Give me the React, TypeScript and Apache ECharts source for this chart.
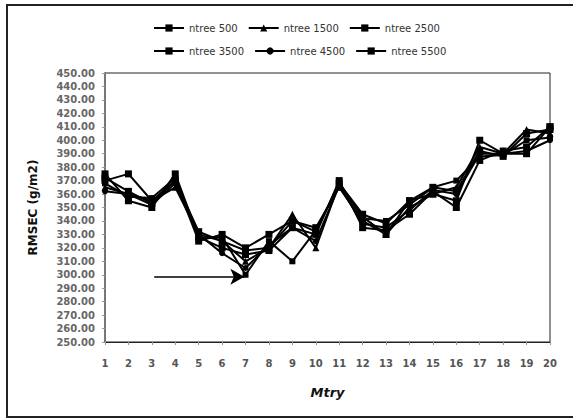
import React, { useEffect, useRef } from "react";
import * as echarts from "echarts";

const mtry = [1, 2, 3, 4, 5, 6, 7, 8, 9, 10, 11, 12, 13, 14, 15, 16, 17, 18, 19, 20];
const seriesNames = ["ntree 500", "ntree 1500", "ntree 2500", "ntree 3500", "ntree 4500", "ntree 5500"];
const ntree500 = [370, 375, 355, 370, 325, 330, 320, 330, 340, 335, 365, 340, 330, 355, 360, 355, 400, 390, 390, 410];
const ntree1500 = [365, 360, 355, 365, 330, 325, 310, 320, 345, 320, 368, 343, 330, 350, 360, 365, 395, 390, 408, 405];
const ntree2500 = [375, 355, 350, 375, 328, 320, 315, 318, 335, 330, 370, 335, 333, 345, 362, 350, 385, 392, 395, 410];
const ntree3500 = [368, 358, 357, 372, 327, 328, 300, 325, 310, 333, 367, 342, 340, 352, 365, 370, 388, 389, 400, 402];
const ntree4500 = [362, 360, 352, 368, 330, 316, 305, 322, 335, 325, 366, 338, 335, 348, 363, 360, 390, 390, 392, 400];
const ntree5500 = [372, 362, 353, 370, 332, 325, 318, 320, 340, 332, 368, 345, 338, 355, 365, 362, 392, 388, 405, 408];
const allValues = [ntree500, ntree1500, ntree2500, ntree3500, ntree4500, ntree5500];
const symbols = ["rect", "triangle", "rect", "rect", "circle", "rect"];
const symbolSizes = [7, 7, 7, 6, 6, 7];
const arrowStart = [3.1, 298.5];
const arrowEnd = [6.95, 298.5];

export default function App() {
  const ref = useRef<HTMLDivElement>(null);
  useEffect(() => {
    if (!ref.current) return;
    const chart = echarts.init(ref.current, null, { renderer: "svg" });
    const series: any[] = allValues.map((vals, i) => ({
      name: seriesNames[i],
      type: "line",
      data: vals.map((v, j) => [mtry[j], v]),
      symbol: symbols[i],
      symbolSize: symbolSizes[i],
      itemStyle: { color: "#000" },
      lineStyle: { color: "#000", width: 2 },
      z: 3,
    }));
    series[0].markLine = {
      silent: true,
      symbol: ["none", "arrow"],
      symbolSize: [12, 14],
      label: { show: false },
      lineStyle: { color: "#000", width: 1.5, type: "solid" },
      data: [[{ coord: arrowStart }, { coord: arrowEnd }]],
    };
    chart.setOption({
      animation: false,
      backgroundColor: "#fff",
      textStyle: { fontFamily: "DejaVu Sans" },
      graphic: [
        {
          type: "rect",
          shape: { x: 7, y: 5, width: 580, height: 412 },
          style: { fill: "none", stroke: "#222", lineWidth: 2 },
          silent: true,
        },
      ],
      legend: [
        {
          data: seriesNames.slice(0, 3),
          left: 148,
          top: 18,
          itemWidth: 30,
          itemHeight: 9,
          itemGap: 10,
          textStyle: { fontSize: 10, color: "#333", fontFamily: "DejaVu Sans" },
        },
        {
          data: seriesNames.slice(3),
          left: 148,
          top: 41,
          itemWidth: 30,
          itemHeight: 9,
          itemGap: 10,
          textStyle: { fontSize: 10, color: "#333", fontFamily: "DejaVu Sans" },
        },
      ],
      grid: {
        left: 105,
        right: 23,
        top: 73,
        bottom: 77,
        show: true,
        borderColor: "#222",
        borderWidth: 1,
      },
      xAxis: {
        type: "value",
        min: 1,
        max: 20,
        interval: 1,
        name: "Mtry",
        nameLocation: "middle",
        nameGap: 44,
        nameTextStyle: { fontSize: 13, fontWeight: "bold", fontStyle: "italic", color: "#111" },
        axisLine: { show: true, lineStyle: { color: "#222", width: 1 } },
        axisTick: { show: true, length: 3, lineStyle: { color: "#999" } },
        axisLabel: { fontSize: 10, fontWeight: "bold", color: "#555", margin: 16 },
        splitLine: { show: false },
      },
      yAxis: {
        type: "value",
        min: 250,
        max: 450,
        interval: 10,
        name: "RMSEC (g/m2)",
        nameLocation: "middle",
        nameGap: 66,
        nameTextStyle: { fontSize: 12, fontWeight: "bold", color: "#111" },
        axisLine: { show: true, lineStyle: { color: "#777", width: 2 } },
        axisTick: { show: true, length: 3, lineStyle: { color: "#999" } },
        axisLabel: {
          fontSize: 10,
          fontWeight: "bold",
          color: "#666",
          margin: 10,
          formatter: (v: number) => v.toFixed(2),
        },
        splitLine: { show: false },
      },
      series,
    });
    return () => chart.dispose();
  }, []);
  return <div ref={ref} style={{ position: "fixed", left: 0, top: 0, width: 573, height: 419 }} />;
}
